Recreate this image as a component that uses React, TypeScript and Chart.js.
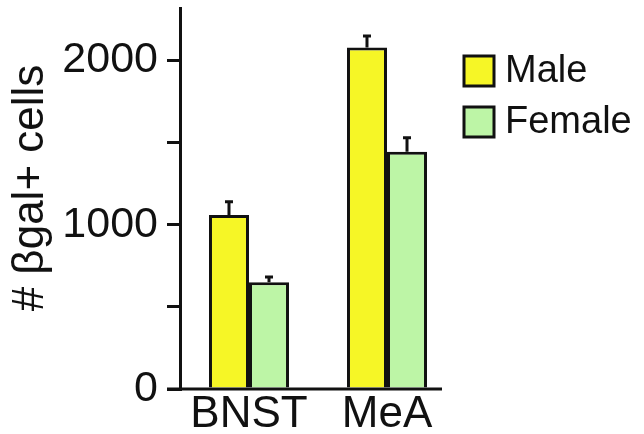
import React, { useEffect, useRef } from "react";
import { Chart, registerables } from "chart.js";

Chart.register(...registerables);

const categories = ["BNST", "MeA"];
const seriesNames = ["Male", "Female"];
const maleValues = [1060, 2080];
const femaleValues = [650, 1445];
const maleErrors = [80, 70];
const femaleErrors = [32, 85];
const yTickValues = [0, 500, 1000, 1500, 2000];
const yTickLabels = [0, 1000, 2000];
const yTitle = "# βgal+ cells";

const MALE_COLOR = "#f6f626";
const FEMALE_COLOR = "#bdf5a6";
const INK = "#111111";
const FONT = "Liberation Sans, Arial, sans-serif";
const LW = 3;

const errorsByDataset = [maleErrors, femaleErrors];

const customPlugin = {
  id: "custom",
  afterDatasetsDraw(chart: any) {
    const ctx = chart.ctx;
    const y = chart.scales.y;
    const x = chart.scales.x;
    ctx.save();
    // error bars
    ctx.strokeStyle = INK;
    ctx.lineWidth = LW;
    chart.data.datasets.forEach((ds: any, di: number) => {
      const meta = chart.getDatasetMeta(di);
      meta.data.forEach((bar: any, i: number) => {
        const v = ds.data[i];
        const e = errorsByDataset[di][i];
        const yTop = y.getPixelForValue(v + e);
        const yBar = y.getPixelForValue(v);
        ctx.beginPath();
        ctx.moveTo(bar.x, yBar);
        ctx.lineTo(bar.x, yTop);
        ctx.moveTo(bar.x - 4, yTop);
        ctx.lineTo(bar.x + 4, yTop);
        ctx.stroke();
      });
    });
    // x baseline
    const base = y.getPixelForValue(0);
    ctx.lineWidth = LW;
    ctx.beginPath();
    ctx.moveTo(chart.chartArea.left - 13, base);
    ctx.lineTo(x.getPixelForValue(1) + 55, base);
    ctx.stroke();
    // y title
    ctx.fillStyle = INK;
    ctx.font = `44px ${FONT}`;
    ctx.textAlign = "center";
    ctx.textBaseline = "middle";
    ctx.translate(31, 188);
    ctx.rotate(-Math.PI / 2);
    ctx.fillText(yTitle, 0, 0);
    ctx.restore();
    // legend
    ctx.save();
    const colors = [MALE_COLOR, FEMALE_COLOR];
    ctx.font = `38px ${FONT}`;
    ctx.textAlign = "left";
    ctx.textBaseline = "middle";
    seriesNames.forEach((name, i) => {
      const top = 56 + i * 51;
      ctx.fillStyle = colors[i];
      ctx.fillRect(464, top, 30, 30);
      ctx.strokeStyle = INK;
      ctx.lineWidth = LW;
      ctx.strokeRect(464, top, 30, 30);
      ctx.fillStyle = INK;
      ctx.fillText(name, 505, top + 16);
    });
    ctx.restore();
  },
};

export default function App() {
  const ref = useRef<HTMLCanvasElement>(null);
  useEffect(() => {
    if (!ref.current) return;
    const chart = new Chart(ref.current, {
      type: "bar",
      data: {
        labels: categories,
        datasets: [
          {
            label: seriesNames[0],
            data: maleValues,
            backgroundColor: MALE_COLOR,
            borderColor: INK,
            borderWidth: LW,
          },
          {
            label: seriesNames[1],
            data: femaleValues,
            backgroundColor: FEMALE_COLOR,
            borderColor: INK,
            borderWidth: LW,
          },
        ],
      },
      options: {
        responsive: false,
        animation: false,
        layout: { padding: { left: 0, right: 188, top: 8, bottom: 0 } },
        plugins: { legend: { display: false }, tooltip: { enabled: false } },
        datasets: { bar: { categoryPercentage: 0.58, barPercentage: 1.0 } },
        scales: {
          x: {
            grid: { display: false },
            border: { display: false },
            ticks: {
              color: INK,
              font: { family: FONT, size: 44 },
              padding: -9,
              maxRotation: 0,
            },
            afterFit: (s: any) => {
              s.height = 45;
              s.paddingLeft = 0;
              s.paddingRight = 0;
            },
          },
          y: {
            min: 0,
            max: 2320,
            grid: {
              drawOnChartArea: false,
              drawTicks: true,
              tickLength: 13,
              color: INK,
              lineWidth: LW,
            },
            border: { display: true, color: INK, width: LW },
            ticks: {
              autoSkip: false,
              padding: 9,
              color: INK,
              font: { family: FONT, size: 43 },
              callback: (v: any) => (yTickLabels.includes(Number(v)) ? String(v) : ""),
            },
            afterBuildTicks: (s: any) => {
              s.ticks = yTickValues.map((v) => ({ value: v }));
            },
            afterFit: (s: any) => {
              s.width = 180;
              s.paddingTop = 0;
              s.paddingBottom = 0;
            },
          },
        },
      },
      plugins: [customPlugin],
    });
    return () => chart.destroy();
  }, []);
  return (
    <div style={{ position: "fixed", left: 0, top: 0, width: 644, height: 434, background: "#fff" }}>
      <canvas ref={ref} width={644} height={434} />
    </div>
  );
}
